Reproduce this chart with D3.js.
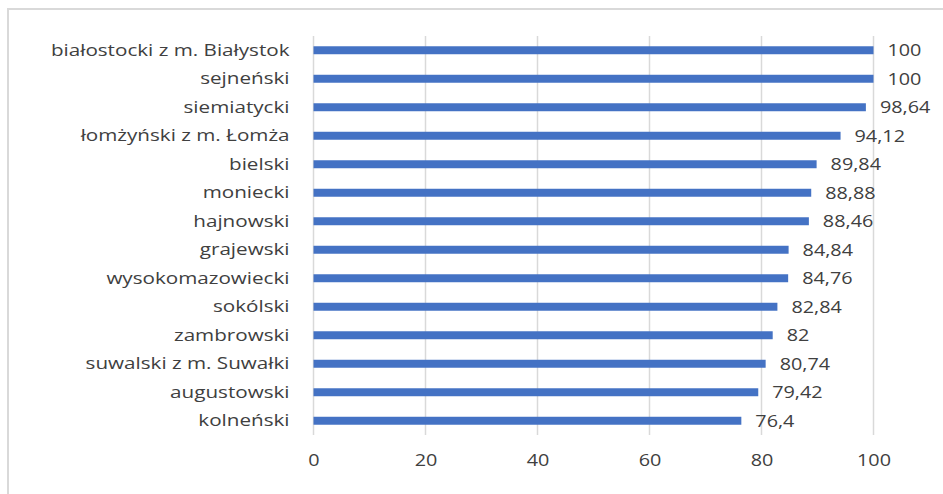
<!DOCTYPE html>
<html>
<head>
<meta charset="utf-8">
<script src="https://cdn.jsdelivr.net/npm/d3@7"></script>
<style>
  html, body { margin: 0; padding: 0; background: #fff; }
  svg { display: block; }
  text { font-family: "Open Sans", "Noto Sans", sans-serif; fill: #404040; }
</style>
</head>
<body>
<svg id="chart" width="943" height="494"></svg>
<script>
// Powiaty (districts) and their values
const categories = [
  "białostocki z m. Białystok", "sejneński", "siemiatycki", "łomżyński z m. Łomża",
  "bielski", "moniecki", "hajnowski", "grajewski", "wysokomazowiecki",
  "sokólski", "zambrowski", "suwalski z m. Suwałki", "augustowski", "kolneński"
];
const values = [100, 100, 98.64, 94.12, 89.84, 88.88, 88.46, 84.84, 84.76, 82.84, 82, 80.74, 79.42, 76.4];
const xTicks = [0, 20, 40, 60, 80, 100];

const svg = d3.select("#chart");
const W = 943, H = 494;
const FS = 16.5;      // value / tick label font size
const FS_CAT = 17.2;  // category label font size
const SX = 1.2;       // horizontal widening of the label glyphs

// Chart frame (extends past right and bottom edges)
svg.append("rect")
  .attr("x", 8).attr("y", 9)
  .attr("width", W + 20).attr("height", H + 20)
  .attr("fill", "#fff").attr("stroke", "#d9d9d9").attr("stroke-width", 2);

const plot = { left: 313.5, right: 873.5, top: 36, bottom: 435 };

const x = d3.scaleLinear().domain([0, 100]).range([plot.left, plot.right]);
const y = d3.scaleBand().domain(categories).range([plot.top, plot.bottom]).paddingInner(0.72).paddingOuter(0.36);

// Vertical gridlines
svg.append("g").selectAll("line").data(xTicks).join("line")
  .attr("x1", d => x(d)).attr("x2", d => x(d))
  .attr("y1", plot.top).attr("y2", plot.bottom)
  .attr("stroke", "#d9d9d9").attr("stroke-width", 1.5);

// Bars
svg.append("g").selectAll("rect").data(values).join("rect")
  .attr("x", x(0))
  .attr("y", (d, i) => y(categories[i]))
  .attr("width", d => x(d) - x(0))
  .attr("height", y.bandwidth())
  .attr("fill", "#4472c4");

// Text widened horizontally around its anchor
function widen(sel) {
  sel.each(function () {
    const t = d3.select(this);
    const tx = +t.attr("x") || 0;
    t.attr("transform", `translate(${tx * (1 - SX)},0) scale(${SX},1)`);
  });
}

// Value labels
const fmt = v => String(v).replace(".", ",");
svg.append("g").selectAll("text").data(values).join("text")
  .attr("x", d => x(d) + 14)
  .attr("y", (d, i) => y(categories[i]) + y.bandwidth() / 2)
  .attr("dy", "0.35em")
  .attr("font-size", FS)
  .text(d => fmt(d))
  .call(widen);

// Category axis
const yAxis = d3.axisLeft(y).tickSize(0).tickPadding(24);
const gy = svg.append("g").attr("transform", `translate(${plot.left},0)`).call(yAxis);
gy.select(".domain").remove();
gy.selectAll("text").attr("font-size", FS_CAT).attr("font-family", null).attr("fill", "#404040")
  .attr("transform", `scale(${SX},1)`)
  .attr("x", -24 / SX);

// Value axis
const xAxis = d3.axisBottom(x).tickValues(xTicks).tickSize(0).tickPadding(19);
const gx = svg.append("g").attr("transform", `translate(0,${plot.bottom})`).call(xAxis);
gx.select(".domain").remove();
gx.selectAll("text").attr("font-size", FS).attr("font-family", null).attr("fill", "#404040")
  .attr("transform", `scale(${SX},1)`);
</script>
</body>
</html>
